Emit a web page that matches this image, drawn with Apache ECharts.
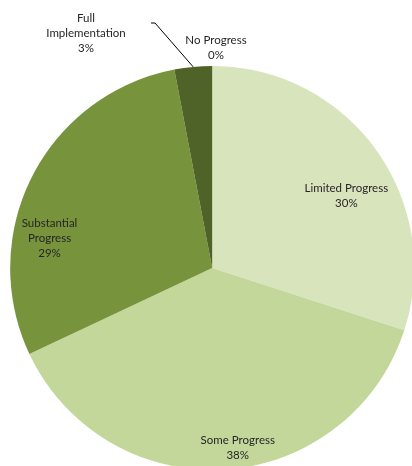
<!DOCTYPE html>
<html>
<head>
<meta charset="utf-8">
<style>
  html, body { margin: 0; padding: 0; background: #ffffff; }
  #chart { width: 412px; height: 466px; }
</style>
<script src="https://cdn.jsdelivr.net/npm/echarts@6/dist/echarts.min.js"></script>
</head>
<body>
<div id="chart"></div>
<script>
// Share of items by implementation status (percent)
const categories = ['No Progress', 'Limited Progress', 'Some Progress', 'Substantial Progress', 'Full Implementation'];
const shares = [0, 30, 38, 29, 3];
const sliceColors = ['#e6eed5', '#d8e4bc', '#c4d79b', '#77933c', '#4f6228'];
// how each name is broken over lines in its label
const labelNames = ['No Progress', 'Limited Progress', 'Some Progress', 'Substantial\nProgress', 'Full\nImplementation'];

const W = 412, H = 466;
const CENTER = [0.515, 0.575];
const RADIUS = 202;

const chart = echarts.init(document.getElementById('chart'));

const outsideIdx = [0, 4];
// label placement: inside labels nudged from their default spot, outside labels placed above the pie
const labelShift = [null, [50, -11], [19, 76], [-70, 18], null];
const outsideSpot = { 0: [216, 48], 4: [86, 33] };

// mid-angle of a slice, in degrees clockwise from 12 o'clock
function midAngle(i) {
  const total = shares.reduce((a, b) => a + b, 0);
  const before = shares.slice(0, i).reduce((a, b) => a + b, 0);
  return (before + shares[i] / 2) / total * 360;
}

const data = categories.map((name, i) => {
  const item = {
    name: name,
    value: shares[i],
    itemStyle: { color: sliceColors[i] },
    label: { position: outsideIdx.includes(i) ? 'outside' : 'inside' }
  };
  if (i === 4) {
    // only the thin slice gets a leader line
    item.labelLine = { show: true, smooth: false, lineStyle: { color: '#000000', width: 1 } };
  }
  return item;
});

chart.setOption({
  animation: false,
  series: [{
    type: 'pie',
    center: [(CENTER[0] * 100) + '%', (CENTER[1] * 100) + '%'],
    radius: RADIUS,
    startAngle: 90,
    clockwise: true,
    avoidLabelOverlap: false,
    data: data,
    itemStyle: { borderWidth: 0 },
    labelLine: { show: false },
    label: {
      show: true,
      color: '#262626',
      fontFamily: 'Lato, "Open Sans", sans-serif',
      fontSize: 11.5,
      lineHeight: 15,
      align: 'center',
      formatter: p => labelNames[p.dataIndex] + '\n' + p.value + '%'
    },
    labelLayout: p => {
      const i = p.dataIndex;
      if (outsideSpot[i]) {
        const [lx, ly] = outsideSpot[i];
        const out = { x: lx, y: ly, align: 'center', verticalAlign: 'middle' };
        if (i === 4) {
          // leader from the slice's outer edge to the label's upper right
          const a = midAngle(i) * Math.PI / 180;
          const cx = W * CENTER[0], cy = H * CENTER[1];
          const edge = [cx + RADIUS * Math.sin(a), cy - RADIUS * Math.cos(a)];
          out.labelLinePoints = [edge, [lx + 69, ly - 10], [lx + 65, ly - 10]];
        }
        return out;
      }
      return { dx: labelShift[i][0], dy: labelShift[i][1] };
    }
  }]
});
</script>
</body>
</html>
